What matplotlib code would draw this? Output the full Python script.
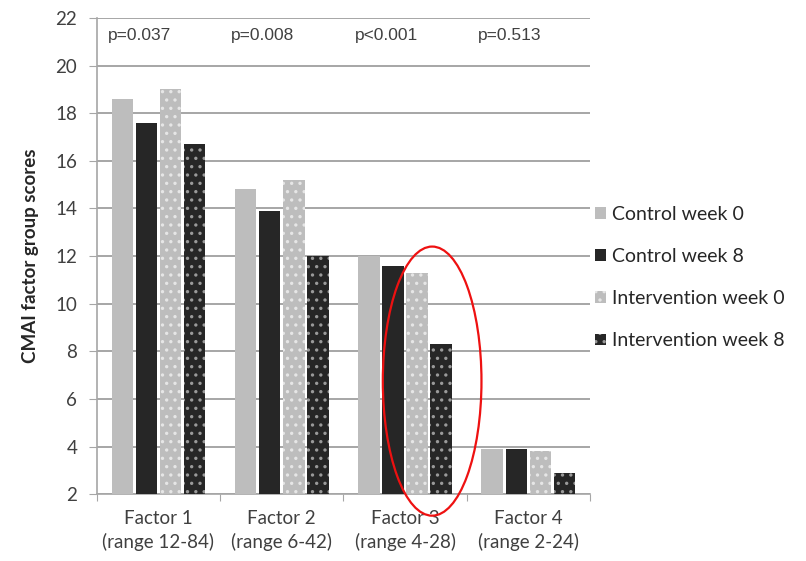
import numpy as np
import matplotlib.pyplot as plt
from matplotlib.patches import Ellipse

factors = ['Factor 1\n(range 12-84)', 'Factor 2\n(range 6-42)',
           'Factor 3\n(range 4-28)', 'Factor 4\n(range 2-24)']
p_values = ['p=0.037', 'p=0.008', 'p<0.001', 'p=0.513']

series_names = ['Control week 0', 'Control week 8',
                'Intervention week 0', 'Intervention week 8']
control_w0 = [18.6, 14.8, 12.0, 3.9]
control_w8 = [17.6, 13.9, 11.6, 3.9]
interv_w0 = [19.0, 15.2, 11.3, 3.8]
interv_w8 = [16.7, 12.0, 8.3, 2.9]

plt.rcParams['font.family'] = ['Lato', 'DejaVu Sans']
plt.rcParams['hatch.linewidth'] = 1.2

fig = plt.figure(figsize=(8.06, 5.61), dpi=100)
ax = fig.add_axes([0.120, 0.119, 0.612, 0.849])

light = '#bdbdbd'
dark = '#262626'
styles = [
    dict(color=light, hatch=None, ec=light),
    dict(color=dark, hatch=None, ec=dark),
    dict(color=light, hatch='..', ec='#e6e6e6'),
    dict(color=dark, hatch='..', ec='#9a9a9a'),
]

x = np.arange(len(factors))
width = 0.175
pitch = 0.195
offsets = (np.arange(4) - 1.5) * pitch
base = 2

for i, (vals, st) in enumerate(zip([control_w0, control_w8, interv_w0, interv_w8], styles)):
    bars = ax.bar(x + offsets[i], np.array(vals) - base, width, bottom=base,
                  color=st['color'], label=series_names[i], zorder=3,
                  linewidth=0)
    if st['hatch']:
        for b in bars:
            b.set_hatch(st['hatch'])
            b.set_edgecolor(st['ec'])

ax.set_ylim(2, 22)
ax.set_xlim(-0.5, len(factors) - 0.5)
ax.set_yticks(np.arange(2, 23, 2))
ax.yaxis.grid(True, color='#a6a6a6', lw=1.4, zorder=0)
ax.tick_params(axis='y', length=6, color='#a6a6a6', labelsize=13.5,
               labelcolor='#404040', pad=8)

# group boundary ticks on x, labels centered under each group
ax.set_xticks(np.arange(-0.5, len(factors)), minor=False)
ax.set_xticklabels([])
ax.set_xticks(x, minor=True)
ax.set_xticklabels(factors, minor=True, fontsize=13.5, color='#404040',
                   linespacing=1.45)
ax.tick_params(axis='x', which='major', length=5, color='#a6a6a6')
ax.tick_params(axis='x', which='minor', length=0, pad=11)

for s in ['top', 'right']:
    ax.spines[s].set_visible(False)
for s in ['left', 'bottom']:
    ax.spines[s].set_color('#a6a6a6')
    ax.spines[s].set_linewidth(1.2)

ax.set_ylabel('CMAI factor group scores', fontsize=13.5, fontweight='bold',
              color='#262626', labelpad=12)

for xi, p in zip(x, p_values):
    ax.text(xi - 0.41, 21.25, p, fontsize=12.5, family='Liberation Sans',
            color='#404040', va='center', ha='left')

ax.add_patch(Ellipse((2.22, 6.75), 0.8, 11.3, fill=False, ec='#ee1111',
                     lw=1.6, zorder=5, clip_on=False))

ax.legend(loc='center left', bbox_to_anchor=(0.975, 0.455), frameon=False,
          fontsize=14, handlelength=0.55, handleheight=0.55, handletextpad=0.3,
          labelspacing=1.3, labelcolor='#262626')

fig.savefig('out.png', dpi=100)
